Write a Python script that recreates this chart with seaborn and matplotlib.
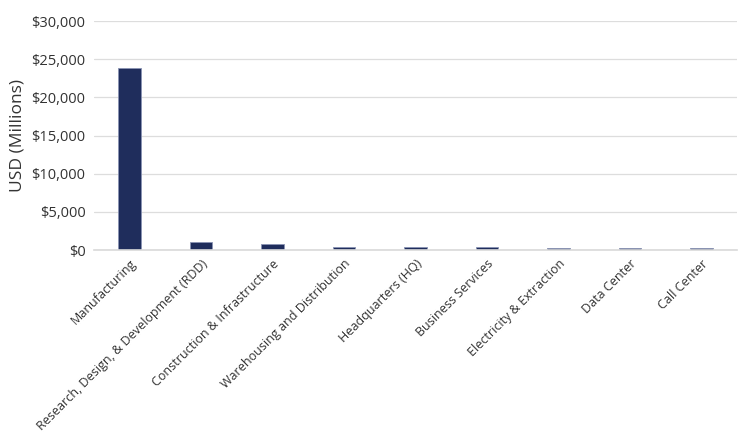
import matplotlib
matplotlib.use("Agg")
import matplotlib.pyplot as plt
import seaborn as sns
import pandas as pd
from matplotlib.ticker import FuncFormatter

categories = ["Manufacturing", "Research, Design, & Development (RDD)",
              "Construction & Infrastructure", "Warehousing and Distribution",
              "Headquarters (HQ)", "Business Services", "Electricity & Extraction",
              "Data Center", "Call Center"]
values = [23900, 1000, 800, 420, 420, 420, 220, 220, 220]

df = pd.DataFrame({"category": categories, "value": values})

sns.set_theme(style="white")
plt.rcParams['font.family'] = ['Open Sans', 'DejaVu Sans']

fig = plt.figure(figsize=(7.5, 4.32), dpi=100)
ax = fig.add_axes([0.125, 0.421, 0.858, 0.530])
sns.barplot(data=df, x="category", y="value", color="#1f2d5c", width=0.32,
            saturation=1, ax=ax, edgecolor="#8a93b3", linewidth=0.6)

ax.set_ylim(0, 30000)
ax.set_yticks(range(0, 30001, 5000))
ax.yaxis.set_major_formatter(FuncFormatter(lambda v, p: f"${v:,.0f}"))
ax.grid(axis="y", color="#dddddd", linewidth=0.9)
ax.set_axisbelow(True)
for s in ["top", "right", "left"]:
    ax.spines[s].set_visible(False)
ax.spines["bottom"].set_color("#d9d9d9")
ax.spines["bottom"].set_linewidth(1.2)
ax.tick_params(axis="both", length=0, colors="#333333", labelsize=10.5)
ax.tick_params(axis="y", pad=6)
ax.tick_params(axis="x", pad=5)
ax.set_xlabel("")
ax.set_ylabel("USD (Millions)", fontsize=12.5, color="#333333", labelpad=4)
plt.setp(ax.get_xticklabels(), rotation=45, ha="right", rotation_mode="anchor", fontsize=9.0)
ax.set_xlim(-0.5, len(categories) - 0.5)

fig.savefig("out.png", dpi=100)
